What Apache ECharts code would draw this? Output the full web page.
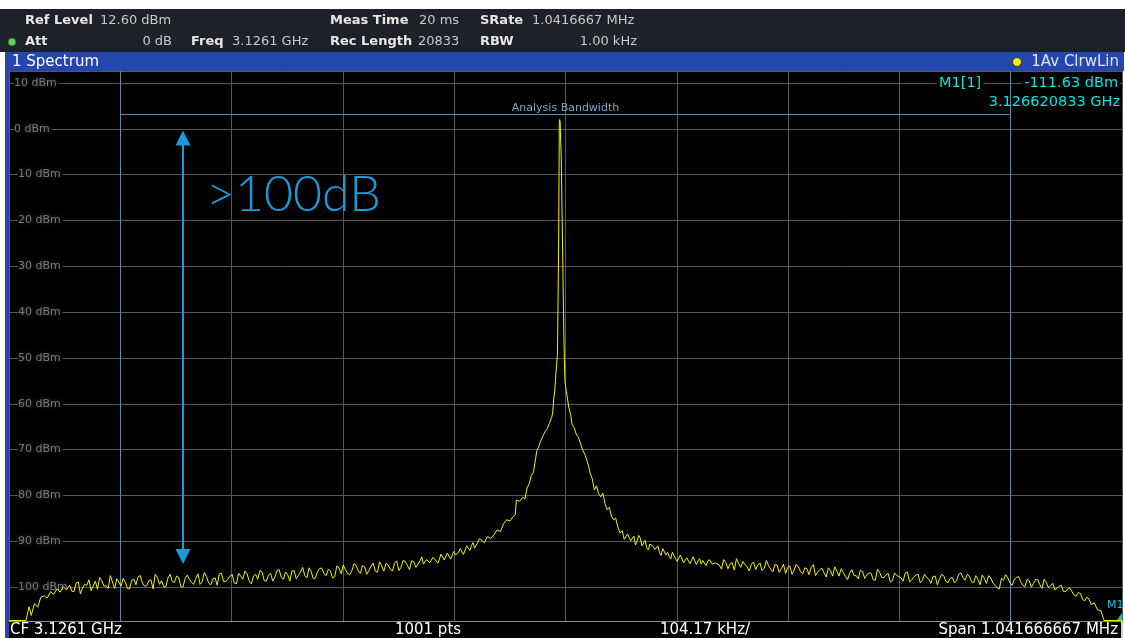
<!DOCTYPE html>
<html><head><meta charset="utf-8">
<script src="https://cdn.jsdelivr.net/npm/echarts@6/dist/echarts.min.js"></script>
<style>html,body{margin:0;padding:0;background:#fff}#c{width:1125px;height:638px}</style>
</head><body><div id="c"></div>
<script>
// ---- instrument settings ----
const spanKHz = 1041.6666667;
const divisions = 10;
const refLevelDbm = 12.6;
const bottomLevelDbm = -107.4;
const ySplitCount = 12;

// ---- trace (offset from CF in kHz, level in dBm) ----
const traceFreqKHz = [
  -520.83,-505,-502,-500,-497,-494,-491,-488,-485,-482,-479,-476,-473,-470,-467,
  -464,-460,-456,-452,-448,-444,-440,-436,-432,-428,
  -424,-420,-416,-412,-408,-404,-400,-396,-392,-388,
  -384,-380,-376,-372,-368,-364,-360,-356,-352,-348,
  -344,-340,-336,-332,-328,-324,-320,-316,-312,-308,
  -304,-300,-296,-292,-288,-284,-280,-276,-272,-268,
  -264,-260,-256,-252,-248,-244,-240,-236,-232,-228,
  -224,-220,-216,-212,-208,-204,-200,-196,-192,-188,
  -184,-180,-176,-172,-168,-164,-160,-156,-152,-148,
  -144,-140,
  -136,-133,-130,-127,-124,-121,-118,-115,-112,-109,
  -106,-103,-100,-97,-94,-91,-88,-85,-82,-79,
  -76,-73,-70,-67,-64,-61,-58,-55,-52,-49,
  -47,-46,-43,-40,-38,-36,-34,-32,-30,-28,
  -27,-25,-23,-21,-19,-17,-15,-13,-12,-11,
  -10,-9,-8.5,-7.5,-7,-6.5,-6,-5.8,-5.5,-5,
  -4.5,-4,-3.5,-3,-2.5,-2,-1.5,-1,-0.5,0.5,
  1.5,3,5,6,8,10,12,14,16,18,
  20,22,23,25,27,29,31,33,35,37,
  39,41,43,45,47,49,51,53,55,58,
  61,64,67,70,73,76,79,82,85,88,
  91,94,97,100,103,106,109,112,115,118,
  121,124,127,130,133,136,140,
  144,148,152,156,160,164,168,172,176,180,
  184,188,192,196,200,204,208,212,216,220,
  224,228,232,236,240,244,248,252,256,260,
  264,268,272,276,280,284,288,292,296,300,
  304,308,312,316,320,324,328,332,336,340,
  344,348,352,356,360,364,368,372,376,380,
  384,388,392,396,400,404,408,412,416,420,
  424,428,432,436,440,444,448,452,456,460,
  464,468,472,476,480,484,488,492,
  495,498,501,504,520.83
];
const traceLevelDbm = [
  -107.3,-107.3,-104.3,-106.2,-103.6,-104.4,-102.2,-101.9,-102.4,-101.0,-101.6,-100.4,-101.1,-99.9,-100.6,
  -99.6,-101.0,-98.9,-100.2,-99.6,-100.8,-98.7,-97.9,-99.8,-100.3,
  -98.9,-98.2,-99.8,-98.9,-100.4,-98.3,-97.7,-99.1,-99.7,-98.4,
  -97.2,-99.4,-99.9,-98.0,-98.8,-97.6,-99.9,-98.1,-98.3,-99.4,
  -97.1,-98.8,-97.7,-99.5,-98.0,-97.1,-98.8,-98.3,-97.2,-99.3,
  -97.6,-96.5,-98.7,-97.6,-98.3,-96.7,-98.7,-97.0,-97.8,-96.2,
  -98.3,-97.3,-96.5,-98.2,-96.7,-97.5,-95.8,-98.2,-96.6,-95.9,
  -97.5,-96.5,-97.7,-95.8,-95.2,-97.0,-96.5,-95.2,-97.0,-95.6,
  -96.4,-94.8,-96.8,-95.4,-94.8,-96.1,-94.8,-96.4,-94.2,-95.3,
  -94.3,-95.7,
  -94.2,-95.0,-94.0,-94.7,-93.5,-94.3,-93.9,-93.1,-94.4,-93.3,
  -94.2,-93.0,-92.4,-91.8,-92.6,-91.4,-90.9,-91.5,-90.2,-89.6,
  -90.3,-89.0,-89.4,-88.6,-87.5,-87.9,-86.2,-85.3,-85.6,-84.6,
  -84.2,-81.0,-81.3,-80.4,-80.8,-78.4,-77.5,-75.6,-75.0,-72.0,
  -70.4,-69.3,-68.0,-67.0,-66.0,-65.4,-64.2,-63.0,-62.0,-59.0,
  -57.0,-53.5,-52.0,-49.0,-38.0,-27.5,-8.6,1.0,2.0,1.5,
  -3.0,-6.1,-14.0,-21.4,-30.0,-38.0,-45.0,-51.1,-55.0,-56.9,
  -58.3,-60.7,-62.5,-64.4,-65.2,-66.6,-67.3,-68.6,-70.1,-71.0,
  -72.3,-74.0,-75.1,-76.3,-78.8,-77.9,-79.6,-80.3,-79.5,-81.8,
  -83.1,-82.6,-84.5,-85.3,-85.0,-86.9,-88.2,-87.7,-89.6,-88.4,
  -89.9,-88.9,-90.0,-89.3,-90.4,-91.4,-90.6,-91.1,-92.0,-92.5,
  -91.6,-93.0,-93.3,-92.4,-93.8,-94.0,-93.1,-94.3,-93.5,-94.6,
  -93.7,-94.3,-95.0,-93.9,-94.5,-93.8,-94.7,
  -95.2,-94.0,-96.0,-94.7,-93.8,-95.7,-95.1,-96.5,-94.5,-95.2,
  -96.4,-94.2,-96.1,-95.1,-96.8,-95.0,-95.7,-97.2,-95.0,-96.6,
  -95.8,-97.3,-95.1,-96.7,-95.9,-97.8,-96.4,-95.6,-97.6,-96.8,
  -98.4,-96.2,-97.5,-96.3,-98.1,-96.9,-98.4,-96.1,-97.9,-97.3,
  -98.9,-96.9,-97.7,-98.7,-96.7,-98.4,-97.4,-99.1,-97.2,-98.3,
  -97.7,-99.5,-97.2,-98.8,-98.1,-99.1,-97.2,-97.9,-97.2,-98.8,
  -97.5,-99.5,-98.1,-97.5,-99.1,-100.2,-98.1,-97.3,-99.1,-98.4,
  -97.7,-99.6,-98.3,-100.0,-98.3,-99.5,-98.3,-100.1,-99.2,-100.3,
  -99.6,-101.0,-100.2,-101.7,-101.2,-102.7,-102.2,-103.8,
  -103.5,-105.0,-105.1,-107.3,-107.3
];
// extra trace points read between the ones above (noise floor detail)
const traceFreqKHzFine = [
  -462,-458,-454,-450,-446,-442,-438,-434,-430,-426,
  -422,-418,-414,-410,-406,-402,-398,-394,-390,-386,
  -382,-378,-374,-370,-366,-362,-358,-354,-350,-346,
  -342,-338,-334,-330,-326,-322,-318,-314,-310,-306,
  -302,-298,-294,-290,-286,-282,-278,-274,-270,-266,
  -262,-258,-254,-250,-246,-242,-238,-234,-230,-226,
  -222,-218,-214,-210,-206,-202,-198,-194,-190,-186,
  -182,-178,-174,-170,-166,-162,-158,-154,-150,-146,
  -142,
  -134.5,-131.5,-128.5,-125.5,-122.5,-119.5,-116.5,-113.5,-110.5,-107.5,
  -104.5,-101.5,-98.5,-95.5,-92.5,-89.5,-86.5,-83.5,-80.5,
  65.5,68.5,71.5,74.5,77.5,80.5,83.5,86.5,89.5,92.5,
  95.5,98.5,101.5,104.5,107.5,110.5,113.5,116.5,119.5,122.5,
  125.5,128.5,131.5,134.5,137.5,
  146,150,154,158,162,166,170,174,178,182,
  186,190,194,198,202,206,210,214,218,222,
  226,230,234,238,242,246,250,254,258,262,
  266,270,274,278,282,286,290,294,298,302,
  306,310,314,318,322,326,330,334,338,342,
  346,350,354,358,362,366,370,374,378,382,
  386,390,394,398,402,406,410,414,418,422,
  426,430,434,438,442,446,450,454,458,462,
  466,470,474,478,482,486,490
];
const traceLevelDbmFine = [
  -100.9,-99.1,-101.5,-99.4,-98.4,-99.8,-100.5,-98.6,-99.7,-97.5,
  -100.3,-98.9,-98.1,-100.3,-98.5,-99.5,-97.5,-99.8,-98.6,-100.4,
  -97.9,-98.6,-99.9,-97.2,-99.0,-97.9,-100.0,-97.4,-99.0,-98.1,
  -99.4,-96.8,-99.1,-98.2,-99.6,-97.0,-98.8,-97.6,-99.1,-97.0,
  -98.3,-97.1,-99.3,-97.2,-96.4,-98.6,-97.4,-98.7,-96.4,-97.9,
  -96.7,-98.7,-96.4,-97.4,-95.7,-98.0,-96.6,-98.0,-95.9,-97.1,
  -96.1,-98.0,-95.4,-97.1,-96.2,-97.3,-94.9,-96.5,-95.3,-97.2,
  -95.4,-96.5,-94.5,-96.5,-95.2,-96.5,-94.3,-95.7,-94.4,-96.2,
  -94.5,
  -93.4,-95.3,-93.6,-94.9,-93.2,-94.8,-92.8,-94.1,-92.6,-93.9,
  -92.2,-93.4,-91.6,-92.9,-91.0,-92.0,-90.3,-91.2,-89.4,
  -90.8,-88.7,-91.0,-89.8,-91.9,-90.3,-91.8,-91.0,-93.1,-91.9,
  -92.4,-93.9,-92.7,-94.4,-93.0,-94.7,-93.6,-94.9,-93.4,-95.1,
  -93.8,-94.2,-95.3,-94.0,-95.0,
  -96.1,-94.6,-95.0,-96.3,-94.9,-94.4,-95.6,-95.0,-96.2,-94.7,
  -95.9,-95.3,-96.7,-95.2,-96.0,-97.0,-95.4,-96.3,-95.6,-97.1,
  -96.0,-95.7,-97.5,-96.2,-96.9,-95.8,-97.6,-96.5,-96.0,-97.7,
  -96.9,-97.5,-98.2,-96.6,-97.3,-97.0,-98.5,-96.8,-97.9,-97.0,
  -98.6,-97.5,-98.0,-96.9,-98.9,-97.8,-97.2,-98.5,-97.9,-99.2,
  -97.6,-98.3,-97.5,-99.0,-97.9,-98.6,-96.9,-98.5,-97.6,-99.0,
  -98.3,-97.4,-99.2,-98.0,-99.6,-100.4,-98.5,-98.0,-99.6,-97.9,
  -98.8,-99.9,-98.6,-99.2,-98.4,-100.3,-99.0,-99.7,-100.6,-99.8,
  -100.9,-100.4,-101.0,-102.0,-101.4,-103.0,-102.6
];

// ---- annotations ----
const abHalfWidthDiv = 4;          // analysis bandwidth limits (divisions from centre)
const abLineLevelDbm = 3.1;
const abLabel = 'Analysis Bandwidth';
const arrowFreqKHz = -358.0;
const arrowTopDbm = -2.0;
const arrowBottomDbm = -93.3;
const dynRangeText = '>100dB';

// ---- header texts ----
const headerRow1 = [['Ref Level','12.60 dBm'],['Meas Time','20 ms'],['SRate','1.0416667 MHz']];
const headerRow2 = [['Att','0 dB'],['Freq','3.1261 GHz'],['Rec Length','20833'],['RBW','1.00 kHz']];
const windowTitle = '1 Spectrum';
const traceInfo = '1Av ClrwLin';
const markerName = 'M1[1]';
const markerLevel = '-111.63 dBm';
const markerFreq = '3.126620833 GHz';
const footer = ['CF 3.1261 GHz','1001 pts','104.17 kHz/','Span 1.041666667 MHz'];

const divKHz = spanKHz / divisions;
const abHalfKHz = abHalfWidthDiv * divKHz;
const tracePoints = traceFreqKHz.map((f, i) => [f, traceLevelDbm[i]])
  .concat(traceFreqKHzFine.map((f, i) => [f, traceLevelDbmFine[i]]))
  .sort((a, b) => a[0] - b[0]);

const FONT = 'DejaVu Sans';
const hdrLabel = {fill:'#e6e6e6', font:'bold 13px "DejaVu Sans"'};
const hdrValue = {fill:'#c9c9c9', font:'13px "DejaVu Sans"'};
function t(x, y, text, style, align) {
  return {type:'text', x, y, z:100, style:Object.assign({text, textVerticalAlign:'middle', textAlign:align||'left'}, style)};
}

const graphic = [
  {type:'rect', shape:{x:0,y:9,width:1125,height:43}, style:{fill:'#1e2228'}, z:-5},
  {type:'rect', shape:{x:5,y:52,width:1119,height:19}, style:{fill:'#2447ad'}, z:-5},
  {type:'rect', shape:{x:5,y:52,width:4,height:586}, style:{fill:'#2447ad'}, z:-5},
  {type:'rect', shape:{x:9,y:621,width:1113,height:17}, style:{fill:'#000'}, z:-5},
  {type:'rect', shape:{x:9,y:621,width:1113,height:1}, style:{fill:'#8a8a8a'}, z:50},
  {type:'rect', shape:{x:1121,y:621,width:2,height:17}, style:{fill:'#d0d0d0'}, z:50},
  {type:'circle', shape:{cx:12,cy:42,r:3.8}, style:{fill:'#5ccf5c', stroke:'#2e7d2e', lineWidth:0.8}, z:60},
  t(25,21,headerRow1[0][0],hdrLabel), t(100,21,headerRow1[0][1],hdrValue),
  t(330,21,headerRow1[1][0],hdrLabel), t(419,21,headerRow1[1][1],hdrValue),
  t(480,21,headerRow1[2][0],hdrLabel), t(532,21,headerRow1[2][1],hdrValue),
  t(25,42,headerRow2[0][0],hdrLabel), t(172,42,headerRow2[0][1],hdrValue,'right'),
  t(191,42,headerRow2[1][0],hdrLabel), t(232,42,headerRow2[1][1],hdrValue),
  t(330,42,headerRow2[2][0],hdrLabel), t(418,42,headerRow2[2][1],hdrValue),
  t(480,42,headerRow2[3][0],hdrLabel), t(637,42,headerRow2[3][1],hdrValue,'right'),
  t(12,62,windowTitle,{fill:'#ffffff', font:'15px "DejaVu Sans"'}),
  {type:'circle', shape:{cx:1017,cy:62,r:4.5}, style:{fill:'#f2ec1c', stroke:'#333', lineWidth:1}, z:60},
  t(1119,62,traceInfo,{fill:'#dfe3f0', font:'15px "DejaVu Sans"'},'right'),
  t(937,83,markerName,{fill:'#00e4e4', font:'14.5px "DejaVu Sans"', backgroundColor:'#000', padding:[0,2]}),
  t(1120,83,markerLevel,{fill:'#00e4e4', font:'14.5px "DejaVu Sans"', backgroundColor:'#000', padding:[0,2]},'right'),
  t(1120,102,markerFreq,{fill:'#00e4e4', font:'14.5px "DejaVu Sans"'},'right'),
  t(1107,605,'M1',{fill:'#00c8d8', font:'11px "DejaVu Sans"'}),
  {type:'polygon', shape:{points:[[1117,620],[1122,620],[1122,613]]}, style:{fill:'#00c8d8'}, z:60},
  t(206,195,dynRangeText,{fill:'#1a9ad6', font:'300 50px Lato'}),
  t(10,630,footer[0],{fill:'#ffffff', font:'15px "DejaVu Sans"'}),
  t(428,630,footer[1],{fill:'#ffffff', font:'15px "DejaVu Sans"'},'center'),
  t(705,630,footer[2],{fill:'#ffffff', font:'15px "DejaVu Sans"'},'center'),
  t(1118,630,footer[3],{fill:'#ffffff', font:'15px "DejaVu Sans"'},'right')
];

const chart = echarts.init(document.getElementById('c'), null, {renderer:'canvas'});
chart.setOption({
  animation:false,
  backgroundColor:'#ffffff',
  grid:{left:9,right:3,top:71,bottom:17,show:true,backgroundColor:'#000',borderWidth:0},
  xAxis:{
    type:'value', min:-5*divKHz, max:5*divKHz, interval:divKHz,
    axisLine:{show:false}, axisTick:{show:false}, axisLabel:{show:false},
    splitLine:{show:true, lineStyle:{color:'#575757', width:1}}
  },
  yAxis:{
    type:'value', min:bottomLevelDbm, max:refLevelDbm, splitNumber:ySplitCount,
    axisLine:{show:false}, axisTick:{show:false},
    splitLine:{show:true, lineStyle:{color:'#575757', width:1}},
    axisLabel:{
      inside:true, margin:5, showMinLabel:false, showMaxLabel:false,
      color:'#777777', fontFamily:FONT, fontSize:11,
      backgroundColor:'#000', padding:[1,2,1,0],
      textShadowColor:'rgba(150,150,150,0.45)', textShadowBlur:4,
      formatter:v => (Math.abs(v/10 - Math.round(v/10)) < 1e-6) ? (Math.round(v) + ' dBm') : ''
    }
  },
  graphic,
  series:[
    {
      type:'line', data:tracePoints, showSymbol:false, symbol:'none', clip:true, z:5,
      lineStyle:{color:'#f2f200', width:1},
      markLine:{
        silent:true, symbol:['none','none'], animation:false,
        lineStyle:{color:'#5b88a6', type:'solid', width:1},
        label:{show:false},
        data:[
          {xAxis:-abHalfKHz}, {xAxis:abHalfKHz},
          [{coord:[-abHalfKHz, abLineLevelDbm]}, {coord:[abHalfKHz, abLineLevelDbm],
            label:{show:true, formatter:abLabel, position:'insideMiddleTop', distance:1,
              color:'#78a8c6', fontFamily:FONT, fontSize:11}}]
        ]
      }
    },
    {
      type:'line', data:[], z:6,
      markLine:{
        silent:true, symbol:['triangle','triangle'], symbolSize:[15,15], animation:false,
        lineStyle:{color:'#1a9ad6', type:'solid', width:2},
        itemStyle:{color:'#1a9ad6'},
        label:{show:false},
        data:[[{coord:[arrowFreqKHz, arrowTopDbm]}, {coord:[arrowFreqKHz, arrowBottomDbm]}]]
      }
    }
  ]
});
</script>
</body></html>
